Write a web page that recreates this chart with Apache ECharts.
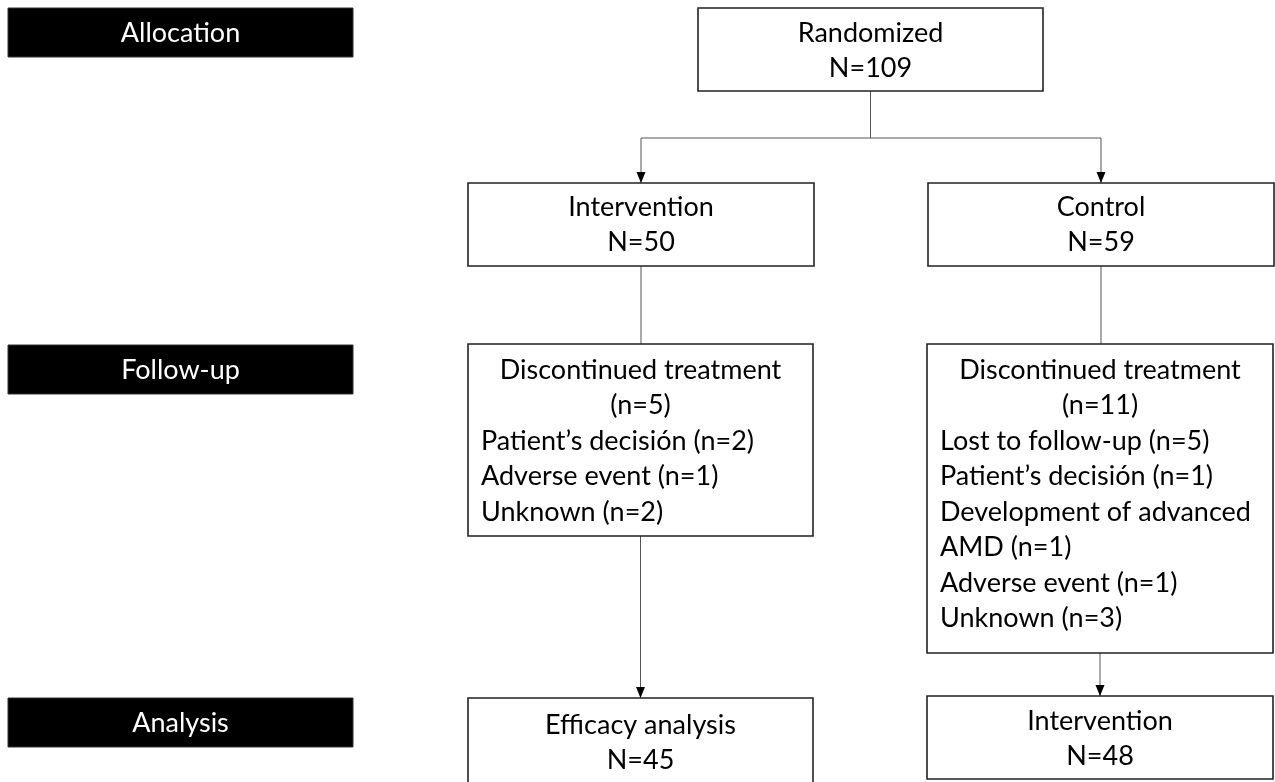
<!DOCTYPE html>
<html><head><meta charset="utf-8">
<script src="https://cdn.jsdelivr.net/npm/echarts@6/dist/echarts.min.js"></script>
<style>html,body{margin:0;padding:0;background:#fff}#c{width:1275px;height:782px}</style>
</head><body><div id="c"></div>
<script>
// ---- content ----
const stageLabels = ['Allocation', 'Follow-up', 'Analysis'];
const randomizedText = ['Randomized', 'N=109'];
const armTexts = [['Intervention', 'N=50'], ['Control', 'N=59']];
const followUpHeaders = [['Discontinued treatment', '(n=5)'], ['Discontinued treatment', '(n=11)']];
const followUpReasons = [
  ['Patient\u2019s decisión (n=2)', 'Adverse event (n=1)', 'Unknown (n=2)'],
  ['Lost to follow-up (n=5)', 'Patient\u2019s decisión (n=1)', 'Development of advanced', 'AMD (n=1)', 'Adverse event (n=1)', 'Unknown (n=3)']
];
const analysisTexts = [['Efficacy analysis', 'N=45'], ['Intervention', 'N=48']];

// ---- layout (page units, y downward) ----
const stageBoxes = [[8, 8, 353, 57], [8, 345, 353, 394], [8, 698, 353, 747]];
const randBox = [698, 8, 1043, 91];
const armBoxes = [[468, 183, 814, 266], [928, 183, 1274, 266]];
const followBoxes = [[468, 344, 813, 536], [927, 344, 1273, 653]];
const analysisBoxes = [[468, 698, 813, 800], [927, 696, 1273, 779]];
const splitY = 138;
const FONT = 'Lato';
const FS = 27;
const LH = 35.5;

const boxes = [];
stageBoxes.forEach((b, i) => boxes.push({ b, lines: [{ t: stageLabels[i], align: 'center' }], dark: true, first: 25 }));
boxes.push({ b: randBox, lines: randomizedText.map(t => ({ t, align: 'center' })), first: 25 });
armBoxes.forEach((b, i) => boxes.push({ b, lines: armTexts[i].map(t => ({ t, align: 'center' })), first: 24 }));
followBoxes.forEach((b, i) => boxes.push({
  b, first: 26,
  lines: followUpHeaders[i].map(t => ({ t, align: 'center' })).concat(followUpReasons[i].map(t => ({ t, align: 'left' })))
}));
analysisBoxes.forEach((b, i) => boxes.push({ b, lines: analysisTexts[i].map(t => ({ t, align: 'center' })), first: i === 0 ? 27 : 25 }));

// connectors derived from box layout
const cx = b => (b[0] + b[2]) / 2;
const randCx = cx(randBox);
const connectors = [
  { pts: [[randCx, randBox[3]], [randCx, splitY]], arrow: false },
  { pts: [[cx(armBoxes[0]), splitY], [cx(armBoxes[1]), splitY]], arrow: false },
  { pts: [[cx(armBoxes[0]), splitY], [cx(armBoxes[0]), armBoxes[0][1]]], arrow: true },
  { pts: [[cx(armBoxes[1]), splitY], [cx(armBoxes[1]), armBoxes[1][1]]], arrow: true },
  { pts: [[cx(armBoxes[0]), armBoxes[0][3]], [cx(armBoxes[0]), followBoxes[0][1]]], arrow: false },
  { pts: [[cx(armBoxes[1]), armBoxes[1][3]], [cx(armBoxes[1]), followBoxes[1][1]]], arrow: false },
  { pts: [[cx(followBoxes[0]), followBoxes[0][3]], [cx(followBoxes[0]), analysisBoxes[0][1]]], arrow: true },
  { pts: [[cx(followBoxes[1]), followBoxes[1][3]], [cx(followBoxes[1]), analysisBoxes[1][1]]], arrow: true }
];

const chart = echarts.init(document.getElementById('c'), null, { renderer: 'canvas' });
chart.setOption({
  animation: false,
  backgroundColor: '#fff',
  grid: { left: 0, right: 0, top: 0, bottom: 0 },
  xAxis: { type: 'value', min: 0, max: 1275, show: false },
  yAxis: { type: 'value', min: 0, max: 782, inverse: true, show: false },
  series: [
    {
      type: 'custom', clip: false, z: 1,
      data: connectors.map((c, i) => [i]),
      renderItem: (params, api) => {
        const c = connectors[params.dataIndex];
        const p = c.pts.map(q => api.coord(q));
        const children = [{
          type: 'polyline', shape: { points: p },
          style: { stroke: '#555', lineWidth: 1, fill: null }
        }];
        if (c.arrow) {
          const e = p[p.length - 1];
          children.push({
            type: 'polygon',
            shape: { points: [[e[0], e[1]], [e[0] - 4.5, e[1] - 11], [e[0] + 4.5, e[1] - 11]] },
            style: { fill: '#000' }
          });
        }
        return { type: 'group', children };
      }
    },
    {
      type: 'custom', clip: false, z: 2,
      data: boxes.map((b, i) => [i]),
      renderItem: (params, api) => {
        const bx = boxes[params.dataIndex];
        const p0 = api.coord([bx.b[0], bx.b[1]]);
        const p1 = api.coord([bx.b[2], bx.b[3]]);
        const children = [{
          type: 'rect',
          shape: { x: p0[0], y: p0[1], width: p1[0] - p0[0], height: p1[1] - p0[1] },
          style: bx.dark ? { fill: '#000', stroke: '#333', lineWidth: 1 } : { fill: '#fff', stroke: '#222', lineWidth: 1.6 }
        }];
        const midX = (p0[0] + p1[0]) / 2;
        bx.lines.forEach((ln, k) => {
          children.push({
            type: 'text',
            style: {
              text: ln.t,
              x: ln.align === 'center' ? midX : p0[0] + 13,
              y: p0[1] + bx.first + k * LH,
              align: ln.align, verticalAlign: 'middle',
              fill: bx.dark ? '#fff' : '#000',
              font: FS + 'px ' + FONT
            }
          });
        });
        return { type: 'group', children };
      }
    }
  ]
});
</script></body></html>
